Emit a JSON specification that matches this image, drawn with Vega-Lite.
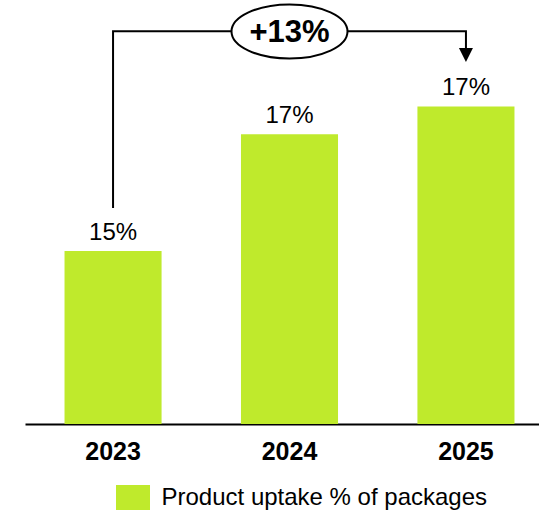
{
  "$schema": "https://vega.github.io/schema/vega-lite/v6.json",
  "width": 514,
  "height": 424,
  "autosize": {"type": "none"},
  "padding": {"left": 25, "top": 0, "right": 0, "bottom": 90},
  "background": "white",
  "config": {"view": {"stroke": null}, "font": "Liberation Sans"},
  "datasets": {
    "bars": [
      {"year": "2023", "v": 15.17, "label": "15%", "series": "Product uptake % of packages"},
      {"year": "2024", "v": 16.77, "label": "17%", "series": "Product uptake % of packages"},
      {"year": "2025", "v": 17.15, "label": "17%", "series": "Product uptake % of packages"}
    ],
    "bracket": [
      {"year": "2023", "v": 15.76, "i": 0},
      {"year": "2023", "v": 18.18, "i": 1},
      {"year": "2025", "v": 18.18, "i": 2},
      {"year": "2025", "v": 17.94, "i": 3}
    ],
    "arrow": [{"year": "2025", "v": 17.855}],
    "badge": [{"year": "2024", "v": 18.177, "text": "+13%"}],
    "badgeText": [{"year": "2024", "v": 18.15, "text": "+13%"}]
  },
  "encoding": {
    "x": {
      "field": "year",
      "type": "ordinal",
      "scale": {"domain": ["2023", "2024", "2025"], "range": [0, 529], "paddingInner": 0.45, "paddingOuter": 0.224},
      "axis": {
        "title": null,
        "domain": true,
        "domainColor": "black",
        "domainWidth": 2,
        "ticks": false,
        "labelFontSize": 25,
        "labelFontWeight": "bold",
        "labelColor": "black",
        "labelPadding": 27,
        "labelBaseline": "middle",
        "labelAngle": 0,
        "labelFont": "Liberation Sans"
      }
    },
    "y": {
      "field": "v",
      "type": "quantitative",
      "scale": {"domain": [12.8, 18.608], "nice": false, "zero": false},
      "axis": null
    }
  },
  "layer": [
    {
      "data": {"name": "bars"},
      "mark": {"type": "bar"},
      "encoding": {
        "y2": {"datum": 12.8},
        "color": {
          "field": "series",
          "type": "nominal",
          "scale": {"range": ["#BFEA2C"]},
          "legend": {
            "orient": "none",
            "legendX": 95.5,
            "legendY": 485,
            "title": null,
            "padding": 0,
            "symbolType": "M-1.36,-1H1.36V1H-1.36Z",
            "symbolSize": 625,
            "symbolStrokeWidth": 0,
            "symbolOpacity": 1,
            "labelFontSize": 24,
            "labelOffset": 16,
            "labelLimit": 0,
            "labelColor": "black",
            "labelFont": "Liberation Sans"
          }
        }
      }
    },
    {
      "data": {"name": "bars"},
      "mark": {"type": "text", "fontSize": 24, "baseline": "alphabetic", "dy": -11, "color": "black"},
      "encoding": {"text": {"field": "label"}}
    },
    {
      "data": {"name": "bracket"},
      "mark": {"type": "line", "color": "black", "strokeWidth": 2},
      "encoding": {"order": {"field": "i"}}
    },
    {
      "data": {"name": "arrow"},
      "mark": {"type": "point", "shape": "M-1,-1L1,-1L0,1Z", "size": 196, "filled": true, "color": "black", "opacity": 1}
    },
    {
      "data": {"name": "badge"},
      "mark": {"type": "point", "shape": "M-1,0A1,0.466,0,1,1,1,0A1,0.466,0,1,1,-1,0Z", "size": 13456, "filled": true, "fill": "white", "stroke": "black", "strokeWidth": 2, "opacity": 1}
    },
    {
      "data": {"name": "badgeText"},
      "mark": {"type": "text", "fontSize": 31, "fontWeight": "bold", "baseline": "middle", "color": "black"},
      "encoding": {"text": {"field": "text"}}
    }
  ]
}
